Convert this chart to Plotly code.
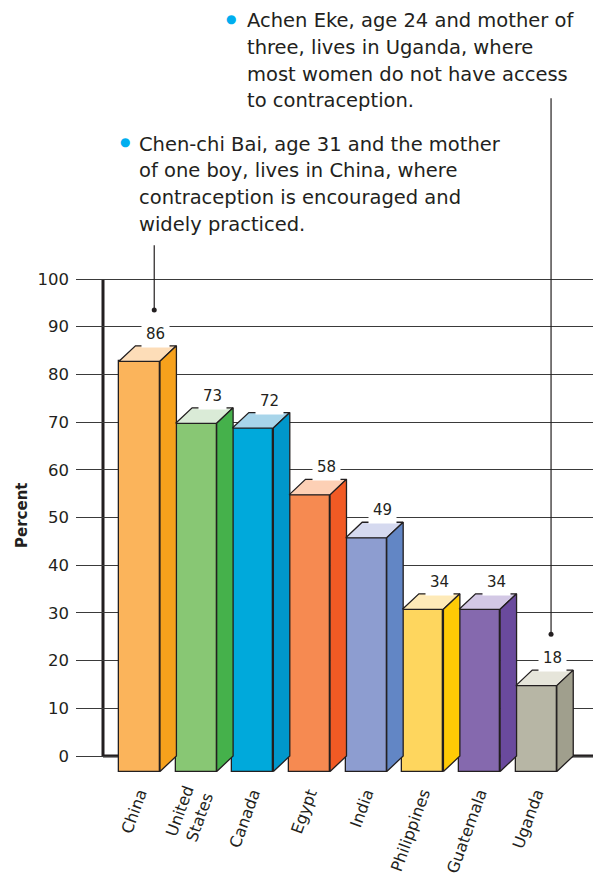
import plotly.graph_objects as go

# Contraceptive use among married women, by country (percent)
countries = ["China", "United<br>States", "Canada", "Egypt", "India",
             "Philippines", "Guatemala", "Uganda"]
percent = [86, 73, 72, 58, 49, 34, 34, 18]

front_colors = ["#FBB45B", "#88C774", "#00A9DB", "#F68A51",
                "#8D9DD0", "#FED65E", "#8569AE", "#B7B6A5"]
side_colors = ["#F6A11C", "#45B14B", "#0097CB", "#F15A24",
               "#6286C5", "#FFCA05", "#6A4A9D", "#A09F8D"]
top_colors = ["#FDDDB8", "#DAEBD7", "#A8D5EA", "#FDD0B5",
              "#D5D9EF", "#FEEAB8", "#D3C8E5", "#E6E5DA"]

y_ticks = list(range(0, 101, 10))

INK = "#231F20"
BULLET = "#00AEEF"
FONT = "DejaVu Sans"

W, H = 593, 876
ML, MB = 76, 96
PLOT_W, PLOT_H = W - ML, H - MB

# 3-D extrusion of each bar (in axis units)
BAR_W = 0.723
DX = 0.29
DY = 3.25

x_idx = list(range(len(countries)))


def px_x(px):
    return (px - ML) / PLOT_W


def px_y(py):
    return 1 - py / PLOT_H


fig = go.Figure()

# front faces
fig.add_trace(go.Bar(
    x=x_idx, y=percent, base=[-DY] * len(percent), width=BAR_W,
    marker=dict(color=front_colors, line=dict(color=INK, width=1.3)),
    hoverinfo="skip", showlegend=False,
))

# top and side faces
for i, v in enumerate(percent):
    x0 = i - BAR_W / 2
    x1 = i + BAR_W / 2
    top_v = v - DY
    fig.add_trace(go.Scatter(
        x=[x0, x1, x1 + DX, x0 + DX, x0],
        y=[top_v, top_v, v, v, top_v],
        fill="toself", fillcolor=top_colors[i], mode="lines",
        line=dict(color=INK, width=1.3), hoverinfo="skip", showlegend=False,
    ))
    fig.add_trace(go.Scatter(
        x=[x1, x1 + DX, x1 + DX, x1, x1],
        y=[top_v, v, 0, -DY, top_v],
        fill="toself", fillcolor=side_colors[i], mode="lines",
        line=dict(color=INK, width=1.3), hoverinfo="skip", showlegend=False,
    ))
    fig.add_annotation(
        x=i + DX, y=v, yshift=12, text=str(v), showarrow=False,
        xanchor="center", yanchor="middle", bgcolor="white", borderpad=4,
        font=dict(family=FONT, size=15, color=INK),
    )

# callout leaders to China and Uganda
callouts = [(0, 107.1), (7, 137.9)]
for i, top in callouts:
    xi = i + 0.26
    dot = percent[i] + 7.5
    fig.add_trace(go.Scatter(
        x=[xi, xi], y=[top, dot], mode="lines",
        line=dict(color=INK, width=1.2), hoverinfo="skip", showlegend=False,
    ))
    fig.add_trace(go.Scatter(
        x=[xi], y=[dot], mode="markers",
        marker=dict(color=INK, size=5), hoverinfo="skip", showlegend=False,
    ))

# vertical axis rule and floor line
fig.add_shape(type="line", xref="paper", yref="y", x0=px_x(103), x1=px_x(103),
              y0=0, y1=100, line=dict(color=INK, width=3), layer="between")
fig.add_shape(type="line", xref="paper", yref="y", x0=px_x(103), x1=1,
              y0=0, y1=0, line=dict(color=INK, width=3), layer="between")

# captions
uganda_lines = ["Achen Eke, age 24 and mother of",
                "three, lives in Uganda, where",
                "most women do not have access",
                "to contraception."]
china_lines = ["Chen-chi Bai, age 31 and the mother",
               "of one boy, lives in China, where",
               "contraception is encouraged and",
               "widely practiced."]

for lines, left, first, bullet_x in [(uganda_lines, 245, 20.5, 231),
                                     (china_lines, 137, 144.0, 125)]:
    for k, line in enumerate(lines):
        fig.add_annotation(
            xref="paper", yref="paper", x=px_x(left), y=px_y(first + 26.8 * k),
            text=line, showarrow=False, xanchor="left", yanchor="middle",
            font=dict(family=FONT, size=19.5, color=INK),
        )
    fig.add_annotation(
        xref="paper", yref="paper", x=px_x(bullet_x), y=px_y(first - 2),
        text="●", showarrow=False, xanchor="center", yanchor="middle",
        font=dict(family=FONT, size=12, color=BULLET),
    )

fig.add_annotation(
    xref="paper", yref="paper", x=px_x(21.5), y=px_y(515.5),
    text="<b>Percent</b>", showarrow=False, textangle=-90,
    xanchor="center", yanchor="middle",
    font=dict(family=FONT, size=15, color=INK),
)

fig.update_layout(
    width=W, height=H, autosize=False,
    margin=dict(l=ML, r=0, t=0, b=MB, pad=0),
    plot_bgcolor="white", paper_bgcolor="white",
    bargap=0, showlegend=False,
    xaxis=dict(
        range=[-1.12, 8.0], tickvals=x_idx, ticktext=countries,
        tickangle=-70, showgrid=False, zeroline=False, showline=False,
        ticks="", fixedrange=True,
        tickfont=dict(family=FONT, size=16, color=INK),
    ),
    yaxis=dict(
        range=[-5.03, 158.49], tickvals=y_ticks,
        showgrid=True, gridcolor="#3a3a3a", gridwidth=1,
        zeroline=False, showline=False, ticks="", ticklabelstandoff=6,
        fixedrange=True,
        tickfont=dict(family=FONT, size=16.5, color=INK),
    ),
)

fig.write_html("out.html")
